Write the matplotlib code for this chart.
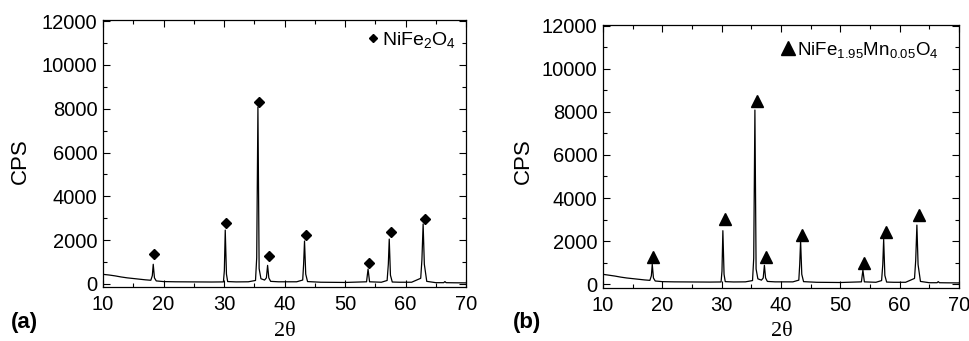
import numpy as np
import matplotlib
matplotlib.use('Agg')
import matplotlib.pyplot as plt
from matplotlib.lines import Line2D
from matplotlib.ticker import MultipleLocator

plt.rcParams['font.family'] = ['Liberation Sans', 'DejaVu Sans']
plt.rcParams['mathtext.default'] = 'regular'

# trace of panel (a), NiFe2O4
trace_x_a = [10, 11, 12, 13, 14, 15, 16, 17, 17.9, 18.15, 18.3, 18.5, 18.8, 20, 22, 25, 28,
             29.9, 30.05, 30.2, 30.4, 30.6, 32, 34, 35.2, 35.4, 35.6, 35.8, 36.1, 36.7, 37.0,
             37.2, 37.4, 37.7, 39, 42, 43.0, 43.15, 43.3, 43.5, 43.8, 46, 50, 53.55, 53.8,
             54.05, 56, 56.95, 57.15, 57.3, 57.5, 57.8, 59, 61, 62.5, 62.7, 62.9, 63.1, 63.5,
             65, 66.3, 66.5, 66.7, 68, 70]
trace_y_a = [440, 410, 370, 320, 280, 250, 220, 190, 170, 380, 900, 280, 140, 110, 100, 95, 90,
             95, 600, 2460, 450, 110, 95, 100, 160, 1200, 8070, 700, 240, 180, 280,
             850, 280, 120, 100, 100, 180, 900, 1960, 450, 110, 80, 70, 100, 680,
             100, 80, 160, 900, 2050, 400, 90, 80, 80, 260, 1100, 2740, 900, 120,
             60, 60, 110, 60, 55, 50]
mark_x_a = [18.5, 30.3, 35.8, 37.4, 43.6, 54.0, 57.6, 63.2]
mark_y_a = [1350, 2770, 8320, 1280, 2230, 960, 2370, 2970]

# trace of panel (b), NiFe1.95Mn0.05O4
trace_x_b = trace_x_a
trace_y_b = [450, 410, 370, 320, 280, 250, 220, 190, 170, 380, 920, 280, 140, 110, 100, 95, 90,
             95, 600, 2480, 450, 110, 95, 100, 160, 1200, 8090, 700, 240, 180, 280,
             870, 280, 120, 100, 100, 180, 900, 2010, 450, 110, 80, 70, 100, 650,
             100, 80, 160, 900, 2080, 400, 90, 80, 80, 260, 1100, 2740, 900, 120,
             60, 60, 110, 60, 55, 50]
mark_x_b = [18.4, 30.6, 36.0, 37.4, 43.5, 54.0, 57.7, 63.2]
mark_y_b = [1270, 3020, 8510, 1270, 2280, 990, 2430, 3210]

fig = plt.figure(figsize=(9.69, 3.41), dpi=100)
ax1 = fig.add_axes([0.1063, 0.1584, 0.3747, 0.7826])
ax2 = fig.add_axes([0.6223, 0.1554, 0.3674, 0.7713])


def style(ax, ylow):
    ax.set_xlim(10, 70)
    ax.set_ylim(ylow, 12046)
    ax.xaxis.set_major_locator(MultipleLocator(10))
    ax.xaxis.set_minor_locator(MultipleLocator(5))
    ax.yaxis.set_major_locator(MultipleLocator(2000))
    ax.yaxis.set_minor_locator(MultipleLocator(1000))
    ax.tick_params(which='both', direction='in', top=True, right=True, width=0.8)
    ax.tick_params(which='major', length=5, labelsize=14.5)
    ax.tick_params(axis='x', which='major', pad=5.5)
    ax.tick_params(axis='y', which='major', pad=4)
    ax.tick_params(which='minor', length=3)
    for s in ax.spines.values():
        s.set_linewidth(0.9)


ax1.plot(trace_x_a, trace_y_a, color='black', lw=0.9)
ax1.plot(mark_x_a, mark_y_a, 'D', color='black', ms=5, ls='none')
style(ax1, -137)
h = Line2D([], [], marker='D', color='black', ms=4.5, ls='none')
ax1.legend([h], ['NiFe$_2$O$_4$'], loc='upper right', frameon=False, fontsize=14,
           handletextpad=0.0, borderaxespad=0.3, handlelength=1.0, borderpad=0.2)

ax2.plot(trace_x_b, trace_y_b, color='black', lw=0.9)
ax2.plot(mark_x_b, mark_y_b, '^', color='black', ms=8, ls='none')
style(ax2, -186)
h = Line2D([], [], marker='^', color='black', ms=10, ls='none')
ax2.legend([h], ['NiFe$_{1.95}$Mn$_{0.05}$O$_4$'], loc='upper right', frameon=False,
           fontsize=13.5, handletextpad=0.0, borderaxespad=0.4, handlelength=1.0,
           bbox_to_anchor=(0.985, 1.0))

for xl, xc, xp in [(0.021, 0.294, 0.011), (0.540, 0.807, 0.529)]:
    fig.text(xl, 0.528, 'CPS', rotation=90, fontsize=16, ha='center', va='center')
    fig.text(xc, 0.027, '2θ', fontsize=16, ha='center', va='center',
             family=['Liberation Serif', 'DejaVu Serif'])
    fig.text(xp, 0.055, '(' + ('a' if xp < 0.1 else 'b') + ')', fontsize=16,
             fontweight='bold', ha='left', va='center')

fig.savefig('out.png', dpi=100)
